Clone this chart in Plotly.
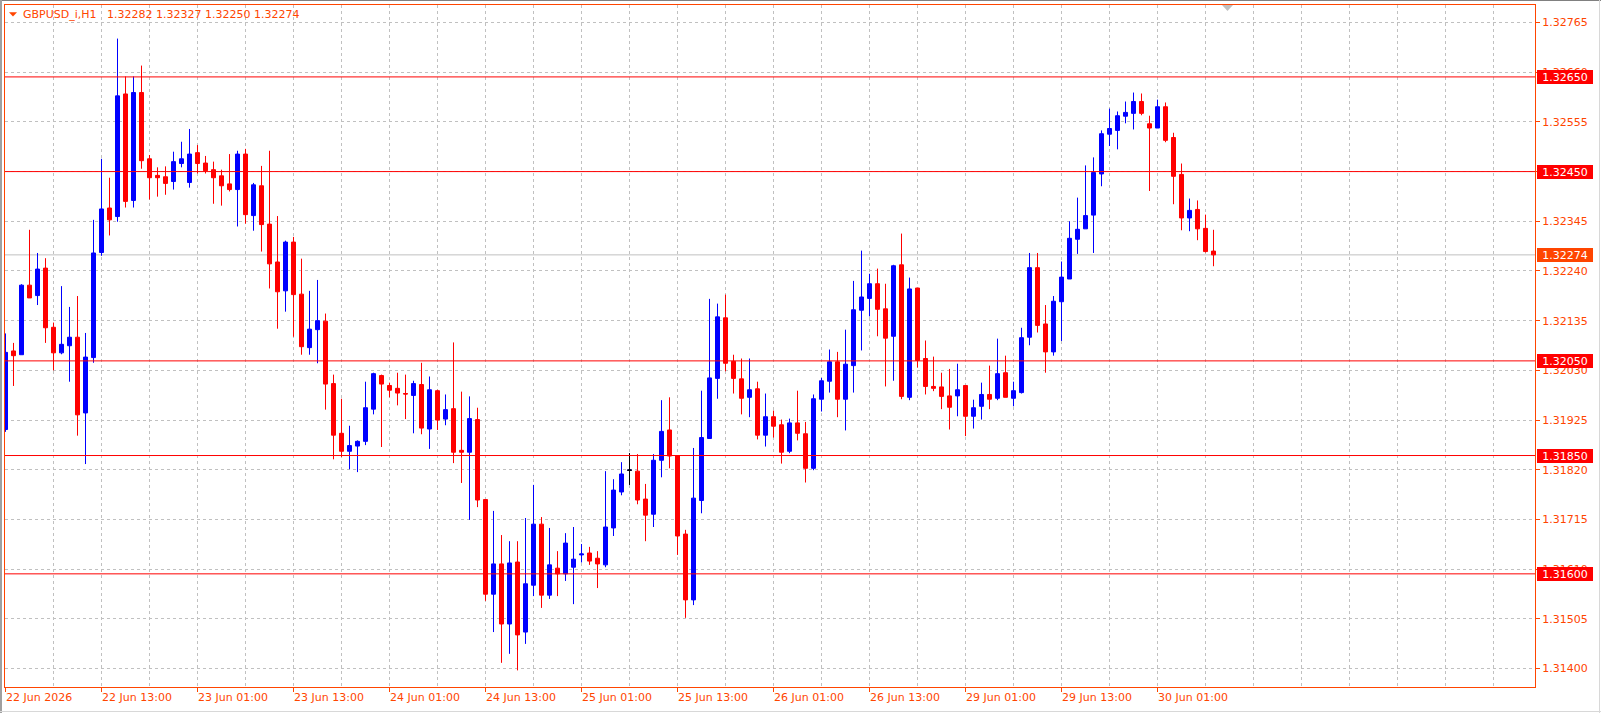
import plotly.graph_objects as go

# ---------------- data (GBPUSD_i, H1) ----------------
bar_open = [
    1.31905, 1.32071, 1.32063, 1.32210, 1.32188, 1.32246, 1.32121, 1.32067, 1.32082, 1.32100,
    1.31940, 1.32057, 1.32279, 1.32373, 1.32355, 1.32614, 1.32389, 1.32617, 1.32477, 1.32442,
    1.32439, 1.32429, 1.32467, 1.32427, 1.32490, 1.32468, 1.32454, 1.32441, 1.32424, 1.32412,
    1.32487, 1.32357, 1.32420, 1.32339, 1.32259, 1.32198, 1.32301, 1.32191, 1.32078, 1.32116,
    1.32134, 1.32002, 1.31897, 1.31859, 1.31870, 1.31880, 1.31948, 1.32019, 1.31998, 1.31992,
    1.31981, 1.31977, 1.32000, 1.31906, 1.31987, 1.31927, 1.31949, 1.31861, 1.31857, 1.31926,
    1.31757, 1.31557, 1.31621, 1.31494, 1.31625, 1.31477, 1.31576, 1.31705, 1.31555, 1.31612,
    1.31600, 1.31614, 1.31640, 1.31644, 1.31633, 1.31619, 1.31697, 1.31773, 1.31819, 1.31817,
    1.31758, 1.31726, 1.31840, 1.31904, 1.31849, 1.31684, 1.31545, 1.31755, 1.31886, 1.32013,
    1.32141, 1.32049, 1.32012, 1.31973, 1.31991, 1.31893, 1.31932, 1.31915, 1.31859, 1.31919,
    1.31896, 1.31823, 1.31969, 1.32007, 1.32048, 1.31969, 1.32040, 1.32157, 1.32182, 1.32213,
    1.32160, 1.32102, 1.32253, 1.31973, 1.32204, 1.32055, 1.31996, 1.31995, 1.31976, 1.31976,
    1.31998, 1.31933, 1.31954, 1.31979, 1.31971, 1.32025, 1.31971, 1.31983, 1.32100, 1.32247,
    1.32128, 1.32069, 1.32175, 1.32223, 1.32307, 1.32329, 1.32358, 1.32445, 1.32529, 1.32537,
    1.32567, 1.32573, 1.32598, 1.32551, 1.32542, 1.32587, 1.32522, 1.32444, 1.32352, 1.32370,
    1.32330, 1.32282,
]
bar_high = [
    1.32108, 1.32088, 1.32212, 1.32327, 1.32278, 1.32267, 1.32131, 1.32208, 1.32164, 1.32187,
    1.32109, 1.32348, 1.32477, 1.32437, 1.32731, 1.32651, 1.32651, 1.32674, 1.32485, 1.32459,
    1.32461, 1.32492, 1.32513, 1.32540, 1.32506, 1.32483, 1.32471, 1.32454, 1.32487, 1.32494,
    1.32498, 1.32426, 1.32462, 1.32494, 1.32356, 1.32304, 1.32312, 1.32266, 1.32198, 1.32221,
    1.32150, 1.32021, 1.31970, 1.31913, 1.31882, 1.32006, 1.32025, 1.32021, 1.32004, 1.32025,
    1.32021, 1.32008, 1.32046, 1.32017, 1.31989, 1.31979, 1.32089, 1.31985, 1.31975, 1.31951,
    1.31757, 1.31733, 1.31682, 1.31669, 1.31669, 1.31718, 1.31788, 1.31720, 1.31697, 1.31648,
    1.31686, 1.31699, 1.31663, 1.31657, 1.31648, 1.31817, 1.31800, 1.31836, 1.31855, 1.31853,
    1.31790, 1.31853, 1.31967, 1.31973, 1.31849, 1.31693, 1.31866, 1.31987, 1.32181, 1.32171,
    1.32190, 1.32063, 1.32055, 1.32055, 1.32006, 1.31981, 1.31945, 1.31926, 1.31928, 1.31987,
    1.31921, 1.31979, 1.32014, 1.32074, 1.32069, 1.32116, 1.32219, 1.32283, 1.32234, 1.32245,
    1.32213, 1.32253, 1.32319, 1.32226, 1.32204, 1.32093, 1.32059, 1.32025, 1.32033, 1.32044,
    1.31998, 1.31968, 1.32004, 1.32040, 1.32097, 1.32061, 1.32006, 1.32120, 1.32278, 1.32278,
    1.32168, 1.32187, 1.32260, 1.32345, 1.32395, 1.32463, 1.32480, 1.32537, 1.32583, 1.32577,
    1.32598, 1.32617, 1.32615, 1.32568, 1.32602, 1.32596, 1.32532, 1.32467, 1.32393, 1.32389,
    1.32359, 1.32327,
]
bar_low = [
    1.31900, 1.31997, 1.32063, 1.32183, 1.32168, 1.32088, 1.32030, 1.32064, 1.32006, 1.31892,
    1.31832, 1.32046, 1.32272, 1.32315, 1.32344, 1.32374, 1.32374, 1.32456, 1.32391, 1.32397,
    1.32401, 1.32412, 1.32459, 1.32416, 1.32446, 1.32446, 1.32382, 1.32378, 1.32408, 1.32334,
    1.32340, 1.32325, 1.32281, 1.32203, 1.32118, 1.32154, 1.32101, 1.32063, 1.32063, 1.32045,
    1.31947, 1.31842, 1.31847, 1.31821, 1.31815, 1.31872, 1.31937, 1.31868, 1.31973, 1.31956,
    1.31927, 1.31897, 1.31895, 1.31864, 1.31904, 1.31914, 1.31834, 1.31792, 1.31714, 1.31741,
    1.31543, 1.31477, 1.31412, 1.31431, 1.31396, 1.31452, 1.31553, 1.31528, 1.31547, 1.31553,
    1.31585, 1.31536, 1.31624, 1.31619, 1.31570, 1.31614, 1.31680, 1.31766, 1.31788, 1.31747,
    1.31669, 1.31699, 1.31804, 1.31823, 1.31640, 1.31507, 1.31534, 1.31728, 1.31886, 1.31970,
    1.32028, 1.31981, 1.31937, 1.31931, 1.31884, 1.31869, 1.31888, 1.31833, 1.31855, 1.31882,
    1.31793, 1.31819, 1.31943, 1.31983, 1.31931, 1.31903, 1.31983, 1.32072, 1.32144, 1.32102,
    1.31996, 1.32008, 1.31969, 1.31967, 1.32036, 1.31979, 1.31986, 1.31948, 1.31905, 1.31933,
    1.31891, 1.31907, 1.31926, 1.31948, 1.31967, 1.31973, 1.31954, 1.31981, 1.32083, 1.32110,
    1.32025, 1.32061, 1.32092, 1.32223, 1.32276, 1.32329, 1.32278, 1.32419, 1.32504, 1.32497,
    1.32552, 1.32539, 1.32569, 1.32409, 1.32542, 1.32512, 1.32381, 1.32326, 1.32324, 1.32305,
    1.32279, 1.32250,
]
bar_close = [
    1.32068, 1.32061, 1.32210, 1.32183, 1.32244, 1.32120, 1.32067, 1.32085, 1.32100, 1.31936,
    1.32058, 1.32278, 1.32371, 1.32348, 1.32610, 1.32387, 1.32617, 1.32473, 1.32437, 1.32437,
    1.32425, 1.32471, 1.32477, 1.32487, 1.32467, 1.32452, 1.32437, 1.32420, 1.32412, 1.32487,
    1.32359, 1.32422, 1.32338, 1.32255, 1.32196, 1.32301, 1.32190, 1.32080, 1.32117, 1.32135,
    1.32001, 1.31893, 1.31859, 1.31871, 1.31880, 1.31951, 1.32023, 1.32001, 1.31988, 1.31982,
    1.31980, 1.32002, 1.31908, 1.31989, 1.31925, 1.31947, 1.31857, 1.31857, 1.31928, 1.31756,
    1.31557, 1.31621, 1.31494, 1.31623, 1.31471, 1.31579, 1.31705, 1.31555, 1.31619, 1.31600,
    1.31665, 1.31631, 1.31642, 1.31627, 1.31621, 1.31699, 1.31777, 1.31811, 1.31819, 1.31756,
    1.31724, 1.31840, 1.31901, 1.31849, 1.31680, 1.31545, 1.31760, 1.31888, 1.32014, 1.32143,
    1.32045, 1.32013, 1.31971, 1.31989, 1.31893, 1.31932, 1.31912, 1.31857, 1.31919, 1.31897,
    1.31823, 1.31970, 1.32008, 1.32048, 1.31969, 1.32043, 1.32158, 1.32185, 1.32213, 1.32159,
    1.32098, 1.32251, 1.31975, 1.32202, 1.32051, 1.31996, 1.31992, 1.31975, 1.31952, 1.31989,
    1.31933, 1.31951, 1.31979, 1.31969, 1.32023, 1.31973, 1.31987, 1.32099, 1.32247, 1.32125,
    1.32069, 1.32176, 1.32227, 1.32309, 1.32328, 1.32357, 1.32448, 1.32530, 1.32541, 1.32568,
    1.32575, 1.32598, 1.32573, 1.32542, 1.32587, 1.32516, 1.32440, 1.32352, 1.32368, 1.32329,
    1.32281, 1.32274,
]

# time axis labels (bar index -> text)
time_label_pos = [0, 12, 24, 36, 48, 60, 72, 84, 96, 108, 120, 132, 144]
time_labels = ["22 Jun 2026", "22 Jun 13:00", "23 Jun 01:00", "23 Jun 13:00",
               "24 Jun 01:00", "24 Jun 13:00", "25 Jun 01:00", "25 Jun 13:00",
               "26 Jun 01:00", "26 Jun 13:00", "29 Jun 01:00", "29 Jun 13:00",
               "30 Jun 01:00"]

# price axis ticks
price_ticks = [1.31400, 1.31505, 1.31610, 1.31715, 1.31820, 1.31925, 1.32030,
               1.32135, 1.32240, 1.32345, 1.32450, 1.32555, 1.32660, 1.32765]

# horizontal levels and current bid
level_lines = [1.32650, 1.32450, 1.32050, 1.31850, 1.31600]
bid_price = 1.32274

symbol = "GBPUSD_i,H1"

# ---------------- layout geometry ----------------
W, H = 1601, 713
ML, MR, MT, MB = 5, 66, 5, 26
PW = W - ML - MR
PH = H - MT - MB
BAR_PX = 8.0
ORANGE = "#FF4500"
FONT = "DejaVu Sans"


def px_x(px):
    return (px - ML) / PW


def px_y(py):
    return (H - MB - py) / PH


bars = list(range(len(bar_open)))
x_left = -(5.5 - ML) / BAR_PX
x_range = [x_left, x_left + PW / BAR_PX]
# price scale: 1.32765 at y=22.5px, 1.31400 at y=668.5px
ppx = (1.32765 - 1.31400) / (668.5 - 22.5)
y_range = [1.31400 - (H - MB - 668.5) * ppx, 1.32765 + (22.5 - MT) * ppx]
grid_x = [v for v in range(6, int(x_range[1]) + 1, 6)]

fig = go.Figure()
fig.add_trace(go.Candlestick(
    x=bars, open=bar_open, high=bar_high, low=bar_low, close=bar_close,
    increasing=dict(line=dict(color="#0000FF", width=1), fillcolor="#0000FF"),
    decreasing=dict(line=dict(color="#FF0000", width=1), fillcolor="#FF0000"),
    whiskerwidth=0, showlegend=False, hoverinfo="skip",
))
doji = [i for i in bars if bar_open[i] == bar_close[i]]
fig.add_trace(go.Candlestick(
    x=doji, open=[bar_open[i] for i in doji], high=[bar_high[i] for i in doji],
    low=[bar_low[i] for i in doji], close=[bar_close[i] for i in doji],
    increasing=dict(line=dict(color="#000000", width=1), fillcolor="#000000"),
    decreasing=dict(line=dict(color="#000000", width=1), fillcolor="#000000"),
    whiskerwidth=0, showlegend=False, hoverinfo="skip",
))
# carrier for the tick-mark axis
fig.add_trace(go.Scatter(x=[None], y=[None], xaxis="x2", yaxis="y",
                         showlegend=False, hoverinfo="skip"))

shapes = []
for lv in level_lines:
    shapes.append(dict(type="line", xref="paper", yref="y", x0=0, x1=1, y0=lv, y1=lv,
                       line=dict(color="#FF0000", width=1), layer="above"))
shapes.append(dict(type="line", xref="paper", yref="y", x0=0, x1=1, y0=bid_price, y1=bid_price,
                   line=dict(color="#C0C0C0", width=1), layer="below"))
# title triangle
shapes.append(dict(type="path", xref="paper", yref="paper",
                   path="M %f,%f L %f,%f L %f,%f Z" % (px_x(9), px_y(12.2), px_x(17), px_y(12.2),
                                                       px_x(13), px_y(16.4)),
                   fillcolor=ORANGE, line=dict(width=0), layer="above"))
# chart shift marker
shapes.append(dict(type="path", xref="paper", yref="paper",
                   path="M %f,%f L %f,%f L %f,%f Z" % (px_x(1222), px_y(5), px_x(1233), px_y(5),
                                                       px_x(1227.5), px_y(11)),
                   fillcolor="#C0C0C0", line=dict(width=0), layer="above"))
# window frame
shapes.append(dict(type="line", xref="paper", yref="paper", x0=px_x(0), x1=px_x(W),
                   y0=px_y(0.5), y1=px_y(0.5), line=dict(color="#808080", width=1)))
shapes.append(dict(type="line", xref="paper", yref="paper", x0=px_x(1), x1=px_x(1),
                   y0=px_y(0), y1=px_y(H), line=dict(color="#A0A0A0", width=2)))
shapes.append(dict(type="line", xref="paper", yref="paper", x0=px_x(0), x1=px_x(W),
                   y0=px_y(711.5), y1=px_y(711.5), line=dict(color="#D8D8D8", width=1)))
shapes.append(dict(type="line", xref="paper", yref="paper", x0=px_x(1599.5), x1=px_x(1599.5),
                   y0=px_y(0), y1=px_y(H), line=dict(color="#D8D8D8", width=1)))

annotations = []
NBSP = "\u00a0"
title_text = symbol + NBSP * 2 + " " + " ".join(
    "%.5f" % v for v in (bar_open[-1], bar_high[-1], bar_low[-1], bar_close[-1]))
annotations.append(dict(xref="paper", yref="paper", x=px_x(21), y=px_y(14.5), xanchor="left",
                        yanchor="middle", text=title_text, showarrow=False,
                        font=dict(family=FONT, size=11, color=ORANGE)))
for pos, txt in zip(time_label_pos, time_labels):
    annotations.append(dict(xref="x", yref="paper", x=pos, y=px_y(697.5), xanchor="left",
                            yanchor="middle", xshift=-2, text=txt, showarrow=False,
                            font=dict(family=FONT, size=11, color=ORANGE)))
for lv in level_lines:
    annotations.append(dict(xref="paper", yref="y", x=1, y=lv, xshift=2, xanchor="left",
                            yanchor="middle", text="%.5f" % lv, showarrow=False,
                            bgcolor="#FF0000", borderwidth=0, borderpad=1, width=54, height=12,
                            font=dict(family=FONT, size=11, color="#FFFFFF")))
annotations.append(dict(xref="paper", yref="y", x=1, y=bid_price, xshift=2, xanchor="left",
                        yanchor="middle", text="%.5f" % bid_price, showarrow=False,
                        bgcolor=ORANGE, borderwidth=0, borderpad=1, width=54, height=12,
                        font=dict(family=FONT, size=11, color="#FFFFFF")))

fig.update_layout(
    width=W, height=H,
    margin=dict(l=ML, r=MR, t=MT, b=MB, pad=0),
    paper_bgcolor="#FFFFFF", plot_bgcolor="#FFFFFF",
    boxgap=0.5, boxgroupgap=0,
    showlegend=False,
    font=dict(family=FONT, size=11, color=ORANGE),
    xaxis=dict(range=x_range, tickmode="array", tickvals=grid_x, showticklabels=False,
               ticks="", showgrid=True, gridcolor="#C0C0C0", gridwidth=1, griddash="3px,3px",
               zeroline=False, showline=True, mirror=True, linecolor=ORANGE, linewidth=1,
               rangeslider=dict(visible=False), fixedrange=True),
    xaxis2=dict(range=x_range, overlaying="x", anchor="y", side="bottom",
                tickmode="array", tickvals=time_label_pos, showticklabels=False,
                ticks="outside", ticklen=4, tickwidth=1, tickcolor=ORANGE,
                showgrid=False, zeroline=False, showline=False, fixedrange=True),
    yaxis=dict(range=y_range, side="right", tickmode="array", tickvals=price_ticks,
               tickformat=".5f", ticks="outside", ticklen=4, tickwidth=1, tickcolor=ORANGE,
               tickfont=dict(family=FONT, size=11, color=ORANGE),
               showgrid=True, gridcolor="#C0C0C0", gridwidth=1, griddash="3px,3px",
               zeroline=False, showline=True, mirror=True, linecolor=ORANGE, linewidth=1,
               automargin=False, fixedrange=True),
    shapes=shapes,
    annotations=annotations,
)

fig.write_html("out.html", config=dict(displayModeBar=False))
